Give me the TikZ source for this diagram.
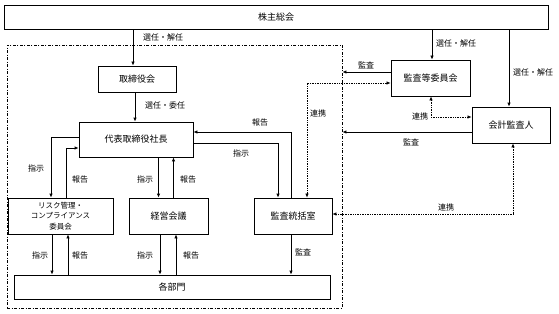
\documentclass[tikz,border=0pt]{standalone}
\usepackage{fontspec}
\setmainfont{Noto Sans CJK JP}
\usetikzlibrary{arrows.meta,positioning,calc}

\begin{document}
\begin{tikzpicture}[x=1pt, y={(0pt,-1pt)},
  box/.style={draw, line width=0.8pt, inner sep=0pt, align=center, font=\fontsize{9}{11}\selectfont},
  lbl/.style={font=\fontsize{8}{10}\selectfont, inner sep=1pt},
  arr/.style={line width=0.8pt, -{Latex[length=4pt,width=3.5pt]}},
  link/.style={line width=0.7pt, densely dotted, {Latex[length=4pt,width=3.5pt]}-{Latex[length=4pt,width=3.5pt]}},
  grpline/.style={draw, line width=0.8pt, dash pattern=on 3pt off 1.5pt on 1pt off 1.5pt}]
  \useasboundingbox (0,0) rectangle (559,313);

  % group frame
  \node[grpline, minimum width=335pt, minimum height=263pt, inner sep=0pt] (grp) at (174.5,176.5) {};

  % boxes
  \node[box, minimum width=544pt, minimum height=24pt] (share) at (276,17) {株主総会};
  \node[box, minimum width=78pt, minimum height=26pt] (board) at (137,79) {取締役会};
  \node[box, minimum width=114pt, minimum height=35pt] (rep) at (136,139.5) {代表取締役社長};
  \node[box, minimum width=105pt, minimum height=36pt, font=\fontsize{7.5}{10.5}\selectfont] (risk) at (60.5,216) {リスク管理・\\コンプライアンス\\委員会};
  \node[box, minimum width=79pt, minimum height=36pt] (mtg) at (168.5,216) {経営会議};
  \node[box, minimum width=78pt, minimum height=36pt] (audit) at (293,216) {監査統括室};
  \node[box, minimum width=316pt, minimum height=24pt] (dept) at (172,287) {各部門};
  \node[box, minimum width=79pt, minimum height=36pt] (ac) at (430.5,78) {監査等委員会};
  \node[box, minimum width=78pt, minimum height=36pt] (ext) at (511,125) {会計監査人};

  % shareholders
  \draw[arr] ([xshift=-4pt]board.north |- share.south) -- ([xshift=-4pt]board.north);
  \node[lbl] (l1) at (163,37) {選任・解任};
  \draw[arr] ([xshift=1.5pt]ac.north |- share.south) -- ([xshift=1.5pt]ac.north);
  \node[lbl] (l2) at (456,43) {選任・解任};
  \draw[arr] ([xshift=-2pt]ext.north |- share.south) -- ([xshift=-2pt]ext.north);
  \node[lbl] (l3) at (533,72) {選任・解任};

  % board and president
  \draw[arr] ([xshift=-2pt]board.south) -- ([xshift=-2pt]board.south |- rep.north);
  \node[lbl] (l4) at (165,105) {選任・委任};
  \draw[arr] ([yshift=2.5pt]rep.west) -| ([xshift=-9.5pt]risk.north);
  \node[lbl] (l5) at (36,168) {指示};
  \draw[arr] ([xshift=5.5pt]risk.north) |- ([yshift=-8.5pt]rep.west);
  \node[lbl] (l6) at (80,179) {報告};
  \draw[arr] ([xshift=-10pt]mtg.north |- rep.south) -- ([xshift=-10pt]mtg.north);
  \node[lbl] (l7) at (145,179) {指示};
  \draw[arr] ([xshift=5pt]mtg.north) -- ([xshift=5pt]mtg.north |- rep.south);
  \node[lbl] (l8) at (188,179) {報告};
  \draw[arr] ([yshift=-3.5pt]rep.east) -| ([xshift=-15pt]audit.north);
  \node[lbl] (l9) at (241,153) {指示};
  \draw[arr] ([xshift=-2pt]audit.north) |- ([yshift=7.5pt]rep.east);
  \node[lbl] (l10) at (260,122) {報告};

  % audit relations
  \draw[link] ([xshift=14pt]audit.north) |- ([yshift=-5pt]ac.west);
  \node[lbl] (l11) at (318,113) {連携};
  \draw[arr] ([yshift=6pt]ac.west) -- ([yshift=6pt]ac.west -| grp.east);
  \node[lbl] (l12) at (366,65) {監査};
  \draw[arr] ([yshift=-7pt]ext.west) -- ([yshift=-7pt]ext.west -| grp.east);
  \node[lbl] (l13) at (411,142) {監査};
  \draw[link] ([xshift=0.5pt]ac.south) |- ([yshift=8pt]ext.west);
  \node[lbl] (l14) at (420,116) {連携};
  \draw[link] ([xshift=2pt]ext.south) |- ([yshift=2pt]audit.east);
  \node[lbl] (l15) at (446,207) {連携};
  \draw[arr] ([xshift=-2pt]audit.south) -- ([xshift=-2pt]audit.south |- dept.north);
  \node[lbl] (l16) at (303,252) {監査};

  % departments
  \draw[arr] ([xshift=-8.5pt]risk.south) -- ([xshift=-8.5pt]risk.south |- dept.north);
  \node[lbl] (l17) at (40,255) {指示};
  \draw[arr] ([xshift=7.5pt]risk.south |- dept.north) -- ([xshift=7.5pt]risk.south);
  \node[lbl] (l18) at (80,255) {報告};
  \draw[arr] ([xshift=-8.5pt]mtg.south) -- ([xshift=-8.5pt]mtg.south |- dept.north);
  \node[lbl] (l19) at (145,255) {指示};
  \draw[arr] ([xshift=7.5pt]mtg.south |- dept.north) -- ([xshift=7.5pt]mtg.south);
  \node[lbl] (l20) at (191,255) {報告};
\end{tikzpicture}
\end{document}
